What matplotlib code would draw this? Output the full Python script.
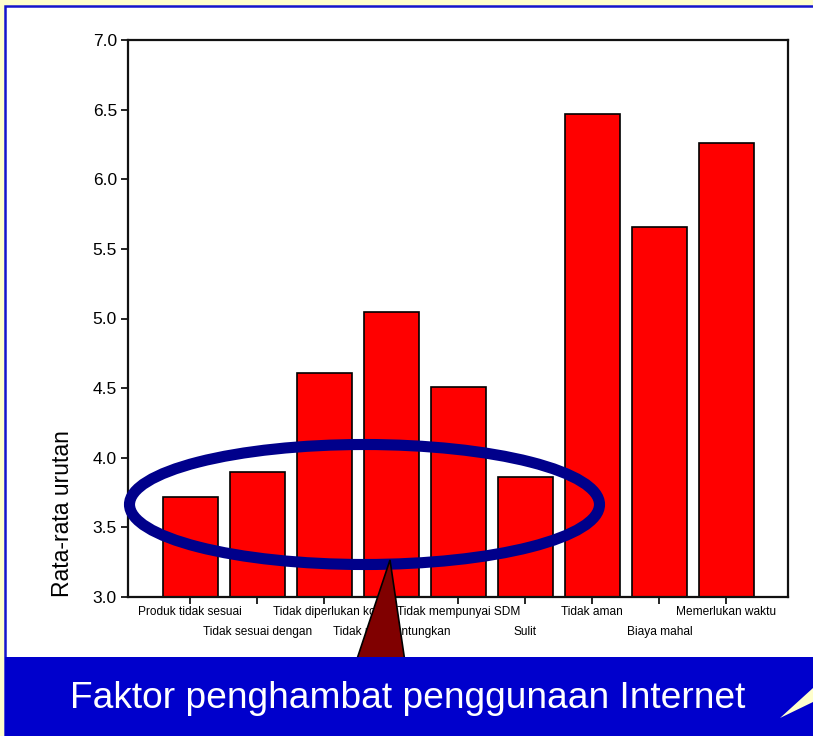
import matplotlib.pyplot as plt
from matplotlib.patches import Ellipse, Polygon, Rectangle

# data
categories = ['Produk tidak sesuai', 'Tidak sesuai dengan', 'Tidak diperlukan ko',
              'Tidak menguntungkan', 'Tidak mempunyai SDM', 'Sulit',
              'Tidak aman', 'Biaya mahal', 'Memerlukan waktu']
means = [3.72, 3.90, 4.61, 5.05, 4.51, 3.86, 6.47, 5.66, 6.26]
y_ticks = [3.0, 3.5, 4.0, 4.5, 5.0, 5.5, 6.0, 6.5, 7.0]
banner_text = 'Faktor penghambat penggunaan Internet'

plt.rcParams['font.family'] = ['Liberation Sans', 'DejaVu Sans']

W, H = 813, 736
fig = plt.figure(figsize=(W / 100, H / 100), dpi=100, facecolor='#FFFFCC')


def px(x, y):
  # pixel (from top-left) -> figure fraction
  return (x / W, 1 - y / H)


# white slide panel with blue border
fig.add_artist(Rectangle(px(5, H), (W - 5) / W + 0.01, (H - 6) / H, transform=fig.transFigure,
                         facecolor='white', edgecolor='#1515CC', lw=1.8, zorder=0))

ax = fig.add_axes([128 / W, 1 - 597 / H, (788 - 128) / W, (597 - 40) / H])
ax.set_facecolor('white')
x = list(range(len(categories)))
ax.bar(x, means, width=0.82, color='#FF0000', edgecolor='black', linewidth=1.2)
ax.set_ylim(3.0, 7.0)
ax.set_xlim(-0.93, 8.92)
ax.set_yticks(y_ticks)
ax.set_yticklabels(['%.1f' % v for v in y_ticks], fontsize=12.5)
ax.set_xticks(x)
ax.set_xticklabels([])
ax.tick_params(axis='both', direction='out', length=5, width=1.2, color='black', pad=3)
for s in ax.spines.values():
  s.set_linewidth(1.6)
  s.set_color('#111111')
ax.text(-0.0985, 0.0, 'Rata-rata urutan', transform=ax.transAxes, rotation=90,
        ha='center', va='bottom', fontsize=16.5)

# staggered category labels
for i, lab in enumerate(categories):
  yy = -0.027 if i % 2 == 0 else -0.063
  ax.text(i, yy, lab, transform=ax.get_xaxis_transform(), ha='center', va='center',
          fontsize=8.6, clip_on=False)

# callout: ellipse, arrow wedge, banner
cx, cy = px(364.5, 504.5)
fig.add_artist(Ellipse((cx, cy), 470 / W, 120 / H, transform=fig.transFigure,
                       facecolor='none', edgecolor='#00008B', lw=8, zorder=5))
fig.add_artist(Polygon([px(390, 560), px(356, 662), px(405, 662)], closed=True,
                       transform=fig.transFigure, facecolor='#800000', edgecolor='black',
                       lw=1.2, zorder=6))
fig.add_artist(Rectangle(px(5, H), 1, (H - 657) / H, transform=fig.transFigure,
                         facecolor='#0000CC', edgecolor='none', zorder=7))
fig.add_artist(Polygon([px(780, 718), px(813, 688), px(813, 702)], closed=True,
                       transform=fig.transFigure, facecolor='#FFFFCC', edgecolor='none',
                       zorder=8))
fig.text(408 / W, 1 - 698 / H, banner_text, color='white', fontsize=26.7,
         ha='center', va='center', zorder=9)

fig.savefig('out.png', dpi=100, facecolor=fig.get_facecolor())
